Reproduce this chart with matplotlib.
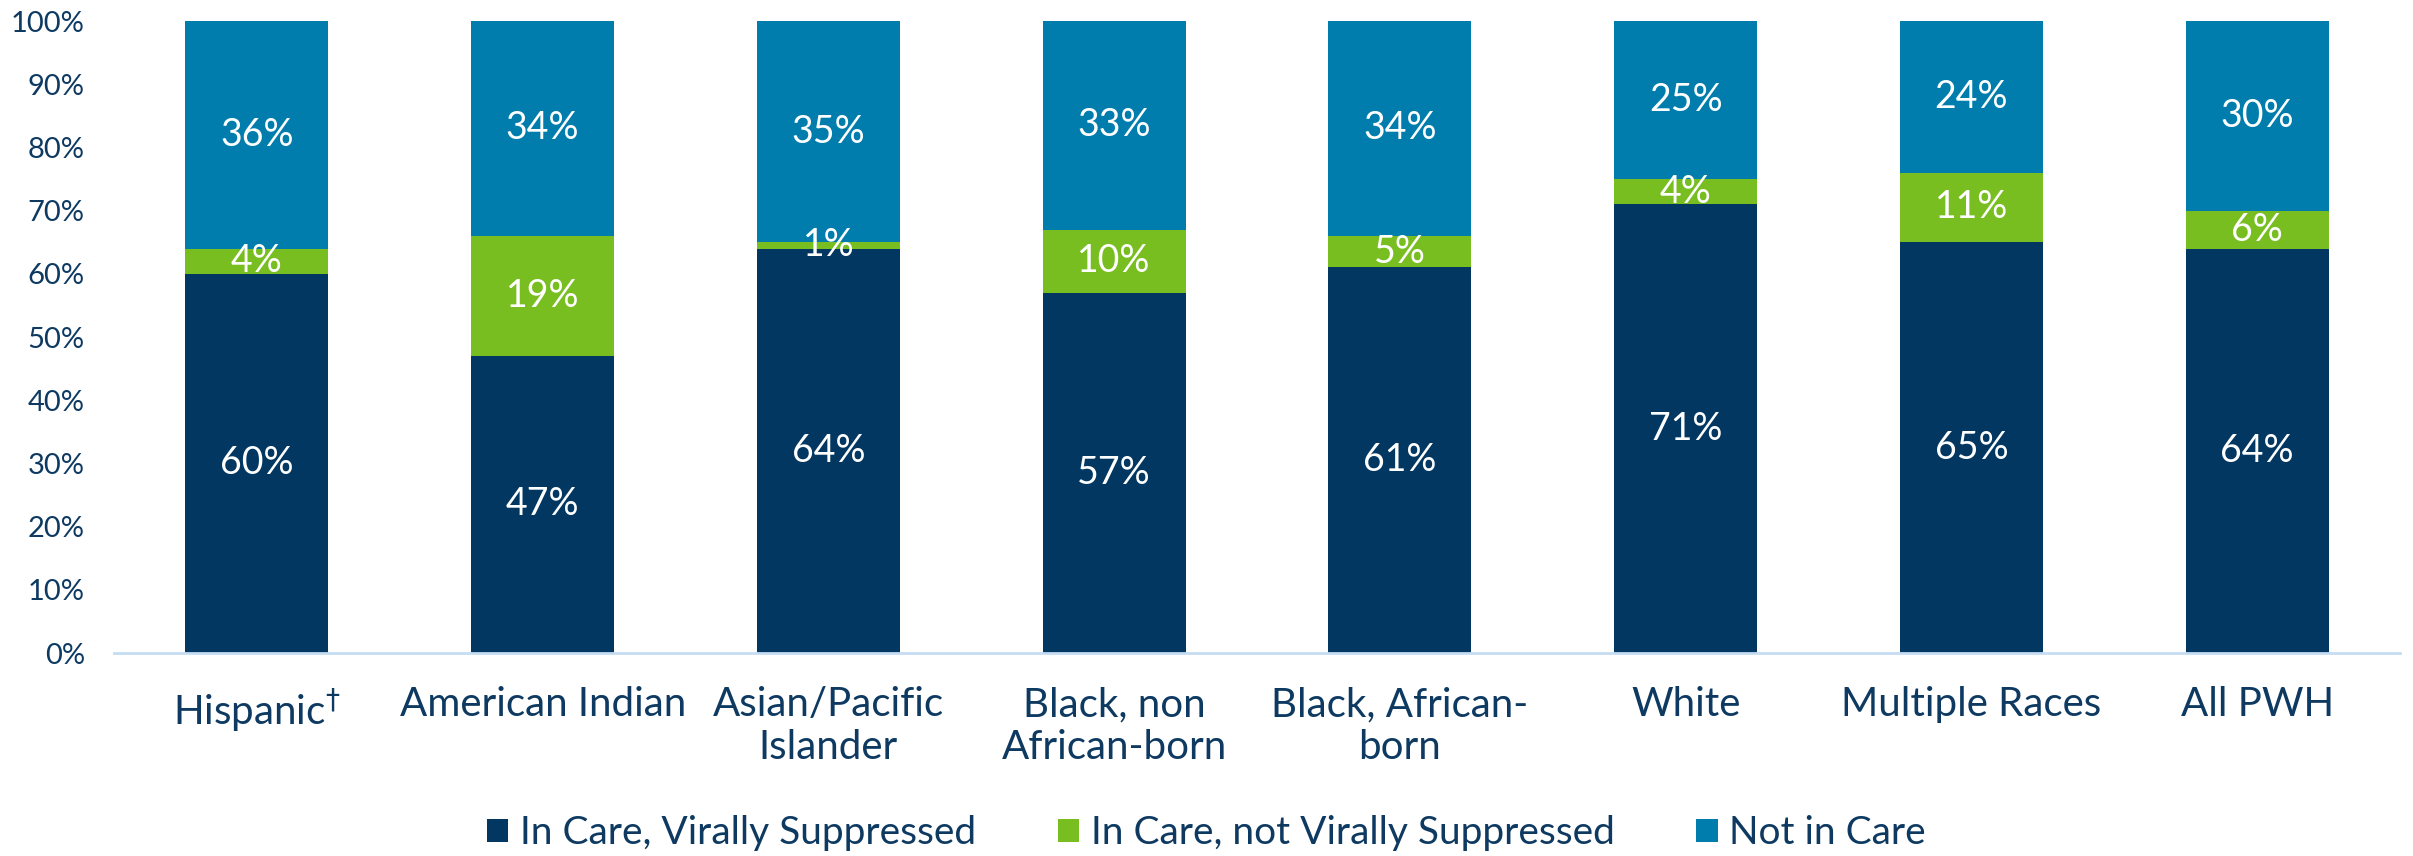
import matplotlib
matplotlib.use("Agg")
import matplotlib.pyplot as plt
import numpy as np

# Data
categories = ["Hispanic$^{\\dagger}$", "American Indian", "Asian/Pacific\nIslander",
              "Black, non\nAfrican-born", "Black, African-\nborn", "White",
              "Multiple Races", "All PWH"]
suppressed = [60, 47, 64, 57, 61, 71, 65, 64]
not_suppressed = [4, 19, 1, 10, 5, 4, 11, 6]
not_in_care = [36, 34, 35, 33, 34, 25, 24, 30]
series_names = ["In Care, Virally Suppressed", "In Care, not Virally Suppressed", "Not in Care"]

navy = "#023761"
green = "#78BE21"
blue = "#007DAC"
text_col = "#0E3A62"

plt.rcParams['font.family'] = ['Lato', 'DejaVu Sans']

fig = plt.figure(figsize=(24.13, 8.56), dpi=100)
ax = fig.add_axes([114 / 2413, 1 - 653 / 856, 2286 / 2413, 632 / 856])

x = np.arange(len(categories))
w = 0.5
bottom = np.zeros(len(categories))
for vals, col, name in zip([suppressed, not_suppressed, not_in_care],
                           [navy, green, blue], series_names):
    ax.bar(x, vals, w, bottom=bottom, color=col, label=name)
    for xi, b, v in zip(x, bottom, vals):
        ax.text(xi, b + v / 2, f"{v}%", ha="center", va="center",
                color="white", fontsize=27)
    bottom += np.array(vals)

ax.set_xlim(-0.5, len(categories) - 0.5)
ax.set_ylim(0, 100)
ax.set_yticks(np.arange(0, 101, 10))
ax.set_yticklabels([f"{v}%" for v in range(0, 101, 10)])
ax.set_xticks(x)
ax.set_xticklabels(categories)
ax.tick_params(axis="y", length=0, labelsize=21, labelcolor=text_col, pad=21)
ax.tick_params(axis="x", length=0, labelsize=29, labelcolor=text_col, pad=24)
for s in ["top", "right", "left"]:
    ax.spines[s].set_visible(False)
ax.spines["bottom"].set_color("#C5DDF2")
ax.spines["bottom"].set_linewidth(2)

leg = fig.legend(loc="center", bbox_to_anchor=(0.5, 1 - 833 / 856), ncol=3,
                 frameon=False, fontsize=28, handlelength=0.55, handleheight=0.55,
                 columnspacing=2.1, handletextpad=0.3)
for t in leg.get_texts():
    t.set_color(text_col)

fig.savefig("out.png", dpi=100)
